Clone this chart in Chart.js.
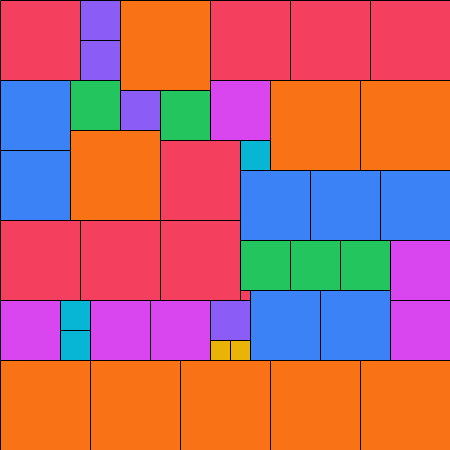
<!DOCTYPE html>
<html lang="en">
<head>
    <meta charset="UTF-8">
    <title>Square Packing</title>
    <script src="https://cdn.jsdelivr.net/npm/chart.js"></script>
    <style>
        body { margin: 0; background: #fff; }
        #wrap { width: 450px; height: 450px; }
    </style>
</head>
<body>
    <div id="wrap"><canvas id="squaresChart"></canvas></div>

    <script>
        // Each square: left, top, side (data units)
        const squareX = [0, 80, 80, 120, 210, 290, 370, 0, 0, 70, 120, 160, 210, 270, 360, 70, 160, 240, 240, 310, 380,
                         0, 80, 160, 240, 290, 340, 390, 0, 60, 60, 90, 150, 210, 240, 250, 320, 390, 210, 230,
                         0, 90, 180, 270, 360];
        const squareY = [0, 0, 40, 0, 0, 0, 0, 80, 150, 80, 90, 90, 80, 80, 80, 130, 140, 140, 170, 170, 170,
                         220, 220, 220, 240, 240, 240, 240, 300, 300, 330, 300, 300, 300, 290, 290, 290, 300, 340, 340,
                         360, 360, 360, 360, 360];
        const squareSide = [80, 40, 40, 90, 80, 80, 80, 70, 70, 50, 40, 50, 60, 90, 90, 90, 80, 30, 70, 70, 70,
                            80, 80, 80, 50, 50, 50, 60, 60, 30, 30, 60, 60, 40, 10, 70, 70, 60, 20, 20,
                            90, 90, 90, 90, 90];

        // colour by side length
        const sideColors = {
            10: "#F43F5E", 20: "#EAB308", 30: "#06B6D4", 40: "#8B5CF6", 50: "#22C55E",
            60: "#D946EF", 70: "#3B82F6", 80: "#F43F5E", 90: "#F97316"
        };

        const datasets = squareX.map((x, i) => {
            const y = squareY[i];
            const s = squareSide[i];
            return {
                data: [
                    { x: x, y: y }, { x: x + s, y: y },
                    { x: x + s, y: y + s }, { x: x, y: y + s }, { x: x, y: y }
                ],
                showLine: true,
                fill: "shape",
                backgroundColor: sideColors[s],
                borderColor: "#000",
                borderWidth: 1,
                pointRadius: 0,
                tension: 0
            };
        });

        new Chart(document.getElementById("squaresChart").getContext("2d"), {
            type: "scatter",
            data: { datasets: datasets },
            options: {
                responsive: true,
                maintainAspectRatio: false,
                animation: false,
                layout: { padding: 0 },
                plugins: { legend: { display: false }, tooltip: { enabled: false } },
                scales: {
                    x: { type: "linear", min: -0.5, max: 449.5, display: false },
                    y: { type: "linear", min: -0.5, max: 449.5, reverse: true, display: false }
                }
            }
        });
    </script>
</body>
</html>
